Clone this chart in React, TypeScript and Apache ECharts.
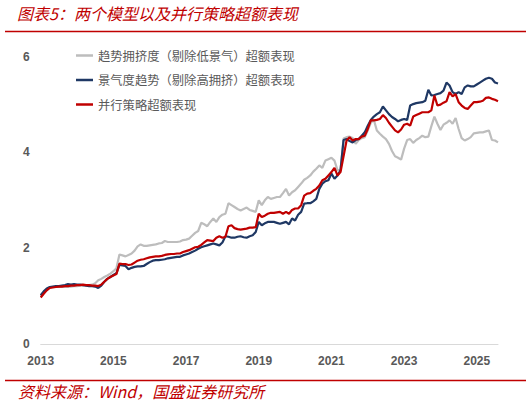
import React, { useEffect, useRef } from "react";
import * as echarts from "echarts";

const TITLE = "图表5：两个模型以及并行策略超额表现";
const SOURCE = "资料来源：Wind，国盛证券研究所";
const SERIES_NAMES = [
  "趋势拥挤度（剔除低景气）超额表现",
  "景气度趋势（剔除高拥挤）超额表现",
  "并行策略超额表现",
];
const START_YEAR = 2013;
const MONTH_COUNT = 152; // 2013-01 .. 2025-08

const months: string[] = [];
for (let i = 0; i < MONTH_COUNT; i++) {
  const y = START_YEAR + Math.floor(i / 12);
  const m = (i % 12) + 1;
  months.push(`${y}-${m < 10 ? "0" + m : m}`);
}

const crowdingValues = [
  1.0, 1.08, 1.14, 1.18, 1.19, 1.19, 1.19, 1.19, 1.19, 1.19,
  1.2, 1.21, 1.21, 1.22, 1.22, 1.23, 1.23, 1.24, 1.27, 1.33,
  1.36, 1.4, 1.43, 1.47, 1.52, 1.58, 1.87, 1.85, 1.83, 1.86,
  1.89, 1.95, 2.04, 2.08, 2.05, 2.05, 2.06, 2.07, 2.08, 2.1,
  2.11, 2.15, 2.13, 2.13, 2.13, 2.13, 2.14, 2.17, 2.18, 2.2,
  2.26, 2.32, 2.36, 2.53, 2.5, 2.46, 2.55, 2.62, 2.55, 2.65,
  2.7, 2.72, 2.94, 2.9, 2.86, 2.82, 2.79, 2.82, 2.85, 2.8,
  2.78, 2.76, 3.0, 2.9, 3.0, 3.07, 3.03, 3.05, 3.07, 3.07,
  3.15, 3.24, 3.1, 3.17, 3.21, 3.28, 3.35, 3.43, 3.47, 3.52,
  3.6, 3.66, 3.73, 3.68, 3.83, 3.86, 3.89, 3.83, 3.63, 3.63,
  4.29, 4.32, 4.33, 4.3, 4.18, 4.26, 4.3, 4.32, 4.46, 4.62,
  4.68, 4.46, 4.39, 4.33, 4.28, 4.18, 4.03, 3.92, 3.89, 3.85,
  4.08, 4.26, 4.28, 4.2, 4.26, 4.3, 4.35, 4.32, 4.33, 4.55,
  4.75, 4.6, 4.47, 4.58, 4.62, 4.67, 4.6, 4.72, 4.49, 4.3,
  4.25, 4.28, 4.32, 4.4, 4.41, 4.42, 4.42, 4.44, 4.46, 4.26,
  4.25, 4.21,
];

const prosperityValues = [
  1.02, 1.1, 1.16, 1.19, 1.2, 1.21, 1.21, 1.22, 1.23, 1.25,
  1.24, 1.25, 1.24, 1.24, 1.23, 1.22, 1.21, 1.21, 1.2, 1.17,
  1.22, 1.3, 1.36, 1.4, 1.44, 1.48, 1.65, 1.64, 1.63, 1.56,
  1.59, 1.61, 1.62, 1.62, 1.63, 1.67, 1.71, 1.74, 1.75, 1.75,
  1.76, 1.77, 1.79, 1.8, 1.81, 1.82, 1.82, 1.85, 1.87, 1.89,
  1.92, 1.95, 1.99, 2.02, 2.04, 2.06, 2.08, 2.1, 2.08, 2.06,
  2.12, 2.25, 2.24, 2.22, 2.22, 2.24, 2.25, 2.23, 2.22, 2.25,
  2.27, 2.34, 2.55, 2.48, 2.52, 2.55, 2.55, 2.55, 2.53, 2.51,
  2.53, 2.55, 2.5, 2.62, 2.58, 2.7, 2.76, 2.93, 2.94, 2.94,
  2.98, 3.03, 3.24, 3.35, 3.4, 3.42, 3.56, 3.45, 3.52, 3.63,
  4.26, 4.28, 4.24, 4.21, 4.26, 4.28, 4.35, 4.42, 4.56, 4.68,
  4.75, 4.8, 4.84, 4.96, 4.88, 4.8, 4.74, 4.7, 4.65, 4.68,
  4.7, 4.68, 4.98, 5.01, 5.03, 5.04, 5.05, 5.08, 5.31, 5.19,
  5.2, 5.22, 5.24, 5.29, 5.46, 5.4, 5.26, 5.22, 5.26, 5.22,
  5.36, 5.4, 5.38, 5.38, 5.42, 5.46, 5.5, 5.54, 5.56, 5.54,
  5.46, 5.44,
];

const parallelValues = [
  0.97, 1.05, 1.12, 1.17, 1.18, 1.19, 1.2, 1.2, 1.21, 1.21,
  1.22, 1.22, 1.23, 1.23, 1.24, 1.23, 1.23, 1.22, 1.22, 1.21,
  1.24, 1.3, 1.36, 1.4, 1.43, 1.46, 1.68, 1.67, 1.67, 1.65,
  1.66, 1.7, 1.74, 1.76, 1.77, 1.79, 1.81, 1.82, 1.83, 1.83,
  1.84, 1.86, 1.87, 1.88, 1.88, 1.89, 1.89, 1.92, 1.94, 1.96,
  1.99, 2.02, 2.03, 2.07, 2.12, 2.17, 2.16, 2.15, 2.22, 2.25,
  2.22, 2.24, 2.46, 2.48, 2.42, 2.4, 2.39, 2.4, 2.41, 2.43,
  2.43, 2.44, 2.72, 2.65, 2.68, 2.72, 2.74, 2.74, 2.75, 2.76,
  2.72, 2.76, 2.72, 2.8, 2.83, 2.83, 2.9, 3.1, 3.14, 3.15,
  3.2, 3.24, 3.31, 3.42, 3.45, 3.52, 3.59, 3.68, 3.52, 3.59,
  3.92, 4.25, 4.32, 4.25, 4.28, 4.28, 4.33, 4.35, 4.49, 4.67,
  4.67, 4.68, 4.7, 4.78, 4.72, 4.62, 4.54, 4.46, 4.42, 4.48,
  4.58, 4.6, 4.56, 4.75, 4.78, 4.81, 4.84, 4.84, 4.84, 4.88,
  5.19, 4.98, 5.0, 5.04, 5.07, 5.26, 5.17, 5.22, 5.05, 4.98,
  4.93, 4.91, 4.98, 5.05, 5.05, 5.06, 5.08, 5.14, 5.15, 5.12,
  5.1, 5.07,
];

const Y_MIN = 0;
const Y_MAX = 6;
const Y_INTERVAL = 2;

const RED = "#C00000";
const COLORS = ["#BDBDBD", "#1F3864", RED];

export default function App() {
  const ref = useRef<HTMLDivElement>(null);

  useEffect(() => {
    if (!ref.current) return;
    const chart = echarts.init(ref.current, null, { renderer: "svg" });
    const seriesData = [crowdingValues, prosperityValues, parallelValues];
    chart.setOption({
      animation: false,
      backgroundColor: "#ffffff",
      color: COLORS,
      grid: { left: 40.7, right: 34, top: 56.7, bottom: 60, containLabel: false },
      legend: {
        orient: "vertical",
        left: 71,
        top: 44,
        icon: "rect",
        itemWidth: 17,
        itemHeight: 2.5,
        itemGap: 11.5,
        data: SERIES_NAMES,
        textStyle: {
          fontSize: 12.3,
          lineHeight: 13,
          color: "#595959",
          fontFamily: "Noto Sans CJK SC",
        },
      },
      xAxis: {
        type: "category",
        boundaryGap: false,
        data: months,
        axisLine: { show: true, lineStyle: { color: "#D9D9D9", width: 1 } },
        axisTick: { show: false },
        splitLine: { show: false },
        axisLabel: {
          interval: (index: number, value: string) => {
            const [y, m] = value.split("-");
            return m === "01" && (Number(y) - START_YEAR) % 2 === 0;
          },
          formatter: (value: string) => value.split("-")[0],
          margin: 11,
          fontSize: 12,
          fontWeight: "bold",
          color: "#595959",
          fontFamily: "Liberation Sans",
        },
      },
      yAxis: {
        type: "value",
        min: Y_MIN,
        max: Y_MAX,
        interval: Y_INTERVAL,
        axisLine: { show: false },
        axisTick: { show: false },
        splitLine: { show: false },
        axisLabel: {
          margin: 11,
          fontSize: 12,
          fontWeight: "bold",
          color: "#595959",
          fontFamily: "Liberation Sans",
        },
      },
      series: SERIES_NAMES.map((name, k) => ({
        name,
        type: "line",
        data: seriesData[k],
        symbol: "none",
        smooth: false,
        lineStyle: { width: 2.2, color: COLORS[k] },
        itemStyle: { color: COLORS[k] },
        z: 2 + k,
      })),
      graphic: [
        {
          type: "text",
          left: 17,
          top: 5,
          style: {
            text: TITLE,
            fontSize: 16,
            fontStyle: "italic",
            fill: RED,
            fontFamily: "Noto Sans CJK SC",
          },
        },
        {
          type: "line",
          shape: { x1: 5, y1: 31.5, x2: 526, y2: 31.5 },
          style: { stroke: RED, lineWidth: 1.5 },
        },
        {
          type: "line",
          shape: { x1: 5, y1: 380.5, x2: 526, y2: 380.5 },
          style: { stroke: RED, lineWidth: 1.5 },
        },
        {
          type: "text",
          left: 18,
          top: 383,
          style: {
            text: SOURCE,
            fontSize: 16,
            fontStyle: "italic",
            fill: RED,
            fontFamily: "Noto Sans CJK SC",
          },
        },
      ],
    });
    return () => chart.dispose();
  }, []);

  return (
    <div
      ref={ref}
      style={{ position: "absolute", left: 0, top: 0, width: 532, height: 404 }}
    />
  );
}
